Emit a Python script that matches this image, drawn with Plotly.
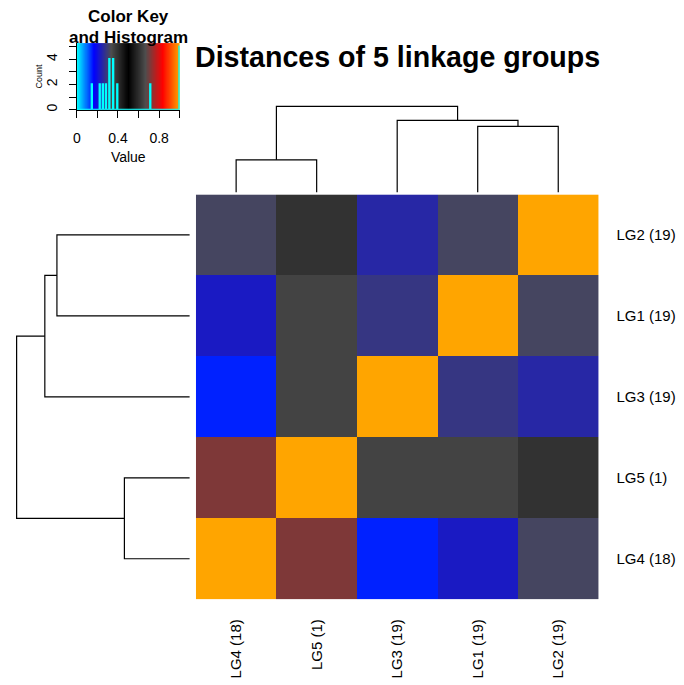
import numpy as np
import plotly.graph_objects as go

# ---------------- data ----------------
labels = ["LG4 (18)", "LG5 (1)", "LG3 (19)", "LG1 (19)", "LG2 (19)"]  # dendrogram order

# symmetric distance matrix (rows/cols in label order)
row_LG4 = [1.000, 0.713, 0.145, 0.223, 0.316]
row_LG5 = [0.713, 1.000, 0.354, 0.354, 0.392]
row_LG3 = [0.145, 0.354, 1.000, 0.284, 0.251]
row_LG1 = [0.223, 0.354, 0.284, 1.000, 0.316]
row_LG2 = [0.316, 0.392, 0.251, 0.316, 1.000]
matrix = [row_LG4, row_LG5, row_LG3, row_LG1, row_LG2]

# hclust-style merges (negative = leaf position 1..5, positive = earlier merge)
merge_a = [-4, -3, -1, 3]
merge_b = [-5, 1, -2, 2]
merge_h = [0.767, 0.837, 0.377, 1.000]

# colour palette (cyan, blue, grey30, black, grey30, red, orange)
palette = ["#00ffff", "#0000ff", "#4d4d4d", "#000000", "#4d4d4d", "#ff0000", "#ffa500"]
n_colors = 299

key_xticks = [0, 0.2, 0.4, 0.6, 0.8, 1.0]
key_xtext = ["0", "", "0.4", "", "0.8", ""]
key_yticks = [0, 1, 2, 3, 4, 5]
key_ytext = ["0", "", "2", "", "4", ""]

# ---------------- helpers ----------------
W, H = 684, 685
def px(x):
    return x / W
def py(y):
    return 1 - y / H

colorscale = [[i / (len(palette) - 1), c] for i, c in enumerate(palette)]
FONT = "Liberation Sans, Arial, sans-serif"

def dendro_segments():
    pos, hts = {}, {}
    xs, ys = [], []
    for i, (a, b, h) in enumerate(zip(merge_a, merge_b, merge_h), start=1):
        def child(c):
            if c < 0:
                return -c - 1, 0.0
            return pos[c], hts[c]
        xa, ha = child(a)
        xb, hb = child(b)
        xs += [xa, xa, xb, xb, None]
        ys += [ha, h, h, hb, None]
        pos[i] = (xa + xb) / 2
        hts[i] = h
    return xs, ys

dx, dh = dendro_segments()

fig = go.Figure()

# heatmap
n = len(labels)
fig.add_trace(go.Heatmap(
    z=matrix, x=list(range(n)), y=list(range(n)),
    colorscale=colorscale, zmin=0, zmax=1, showscale=False,
    xaxis="x", yaxis="y", hoverinfo="skip"))

# column dendrogram
fig.add_trace(go.Scatter(x=dx, y=dh, mode="lines",
                         line=dict(color="black", width=1.2),
                         xaxis="x2", yaxis="y2", hoverinfo="skip"))
# row dendrogram
fig.add_trace(go.Scatter(x=dh, y=dx, mode="lines",
                         line=dict(color="black", width=1.2),
                         xaxis="x3", yaxis="y3", hoverinfo="skip"))

# colour key + histogram
vals = np.array(matrix).ravel()
breaks = np.linspace(0, 1, n_colors + 1)
counts, _ = np.histogram(vals, bins=breaks)
hy = np.append(counts, counts[-1])
ymax = counts.max() / 0.95
key_z = [(breaks[:-1] + breaks[1:]) / 2]
fig.add_trace(go.Heatmap(z=key_z, x=breaks, y=[0, ymax], colorscale=colorscale,
                         zmin=0, zmax=1, showscale=False,
                         xaxis="x4", yaxis="y4", hoverinfo="skip"))
fig.add_trace(go.Scatter(x=breaks, y=hy, mode="lines", line=dict(color="#00ffff", width=2, shape="hv"),
                         xaxis="x4", yaxis="y4", hoverinfo="skip"))

hm_x = [px(193), px(598)]
hm_y = [py(601), py(195)]

# dendrogram domains (value 0 and value 1 pixel positions, padded)
cd_leaf, cd_root = 192.7, 106.7
cd_unit = cd_leaf - cd_root
pad = 0.05
rd_leaf, rd_root = 186.7, 12.7
rd_unit = rd_leaf - rd_root

ax_common = dict(showgrid=False, zeroline=False, showline=False, ticks="", showticklabels=False)

fig.update_layout(
    width=W, height=H, margin=dict(l=0, r=0, t=0, b=0),
    paper_bgcolor="white", plot_bgcolor="rgba(0,0,0,0)",
    showlegend=False, font=dict(family=FONT, color="black"),
    xaxis=dict(domain=hm_x, range=[-0.5, n - 0.5], anchor="y",
               tickvals=list(range(n)), ticktext=labels, tickangle=-90,
               showgrid=False, zeroline=False, ticks="", ticklabelstandoff=16,
               tickfont=dict(size=15)),
    yaxis=dict(domain=hm_y, range=[-0.5, n - 0.5], anchor="x", side="right",
               tickvals=list(range(n)), ticktext=labels,
               showgrid=False, zeroline=False, ticks="", ticklabelstandoff=17,
               tickfont=dict(size=15)),
    xaxis2=dict(domain=hm_x, range=[-0.5, n - 0.5], anchor="y2", **ax_common),
    yaxis2=dict(domain=[py(cd_leaf + pad * cd_unit), py(cd_root - pad * cd_unit)],
                range=[-pad, 1 + pad], anchor="x2", **ax_common),
    xaxis3=dict(domain=[px(rd_root - pad * rd_unit), px(rd_leaf + pad * rd_unit)],
                range=[1 + pad, -pad], anchor="y3", **ax_common),
    yaxis3=dict(domain=hm_y, range=[-0.5, n - 0.5], anchor="x3", **ax_common),
    xaxis4=dict(domain=[px(73.3), px(176.7)], range=[0, 1], anchor="y4",
                tickvals=key_xticks, ticktext=key_xtext, ticks="outside", ticklen=7,
                tickcolor="black", showline=True, linecolor="black", linewidth=1,
                showgrid=False, zeroline=False, tickfont=dict(size=14), ticklabelstandoff=9,
                title=dict(text="Value", font=dict(size=14), standoff=6)),
    yaxis4=dict(domain=[py(110), py(43.2)], range=[0, ymax], anchor="x4",
                tickvals=key_yticks, ticktext=key_ytext, ticks="outside", ticklen=7,
                tickcolor="black", showline=True, linecolor="black", linewidth=1,
                showgrid=False, zeroline=False, tickangle=-90, tickfont=dict(size=14),
                ticklabelstandoff=6,
                title=dict(text="Count", font=dict(size=9), standoff=0)),
    annotations=[
        dict(text="<b>Distances of 5 linkage groups</b>", x=px(395.5), y=py(57),
             xref="paper", yref="paper", xanchor="center", yanchor="middle",
             showarrow=False, font=dict(size=28.6)),
        dict(text="<b>Color Key</b>", x=px(125), y=py(16.7), xref="paper", yref="paper",
             xanchor="center", yanchor="middle", showarrow=False, font=dict(size=17)),
        dict(text="<b>and Histogram</b>", x=px(125), y=py(37.7), xref="paper", yref="paper",
             xanchor="center", yanchor="middle", showarrow=False, font=dict(size=17)),
    ],
)

fig.write_html("out.html", config={"displayModeBar": False, "staticPlot": True},
               post_script="document.body.style.margin='0px';document.body.style.overflow='hidden';")
